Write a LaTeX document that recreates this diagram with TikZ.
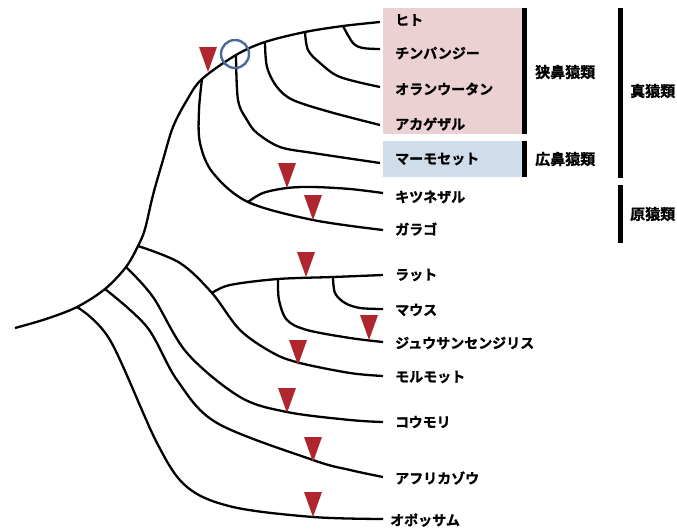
\documentclass[tikz,border=0pt]{standalone}
\usepackage{fontspec}
\setmainfont{Noto Sans CJK JP}[BoldFont={* Bold},BoldFeatures={FakeBold=1.3}]
\definecolor{pinkc}{HTML}{EBD1D1}
\definecolor{bluec}{HTML}{CFDDEA}
\definecolor{markred}{HTML}{B0262F}
\definecolor{circblue}{HTML}{4A6C99}
\begin{document}
\begin{tikzpicture}[x=1pt,y=-1pt,
  branch/.style={line width=2.3pt, black},
  lab/.style={anchor=west, inner sep=0pt, font=\bfseries\fontsize{14}{14}\selectfont},
  grp/.style={anchor=west, inner sep=0pt, font=\bfseries\fontsize{15}{15}\selectfont},
  bar/.style={fill=black},
  groupbox/.style={anchor=north west, inner sep=0pt, minimum width=139pt},
  redmark/.pic={\fill[markred] (0,0) -- (-9,-25) -- (9,-25) -- cycle;}
]
\useasboundingbox (0,0) rectangle (677,530);

% coloured boxes
\node[groupbox, fill=pinkc, minimum height=126pt] (boxcat) at (383,8) {};
\node[groupbox, fill=bluec, minimum height=36pt] (boxpla) at (383,141) {};

% bars
\fill[bar] (522,8) rectangle (527,134);
\fill[bar] (522,141) rectangle (527,177);
\fill[bar] (618,8) rectangle (622.5,178);
\fill[bar] (618,185) rectangle (622.5,243);

% group labels
\node[grp] (gcat) at (535,72) {狭鼻猿類};
\node[grp] (gpla) at (535,159) {広鼻猿類};
\node[grp] (gsim) at (630,91) {真猿類};
\node[grp] (gpro) at (630,214) {原猿類};

% leaf labels
\node[lab] (Lhito) at (395,20) {ヒト};
\node[lab] (Lchimp) at (395,53) {チンパンジー};
\node[lab] (Lora) at (395,89) {オランウータン};
\node[lab] (Lrhe) at (395,124) {アカゲザル};
\node[lab] (Lmar) at (395,159) {マーモセット};
\node[lab] (Llem) at (395,197) {キツネザル};
\node[lab] (Lgal) at (395,229) {ガラゴ};
\node[lab] (Lrat) at (395,275) {ラット};
\node[lab] (Lmou) at (395,310) {マウス};
\node[lab] (Lsq) at (395,343) {ジュウサンセンジリス};
\node[lab] (Lgp) at (395,377) {モルモット};
\node[lab] (Lbat) at (395,422) {コウモリ};
\node[lab] (Lele) at (395,478) {アフリカゾウ};
\node[lab] (Lopo) at (390,520) {オポッサム};

% junctions
\coordinate (root) at (15,328);
\coordinate (Jopo) at (77,307);
\coordinate (Jele) at (105,289);
\coordinate (Jbat) at (126,267);
\coordinate (Jrod) at (138,246);
\coordinate (Jpri) at (202,79);
\coordinate (Jmar) at (236,55);
\coordinate (Jrhe) at (265,42);
\coordinate (Jora) at (305,32);
\coordinate (Jchi) at (343,26);
\coordinate (Jpro) at (248,202);
\coordinate (Jmur) at (212,293);
\coordinate (Jsq) at (278,279);
\coordinate (Jmou) at (333,277);

% leaf ends
\coordinate (Ehito) at (380,22);
\coordinate (Echi) at (380,49);
\coordinate (Eora) at (380,87);
\coordinate (Erhe) at (380,125);
\coordinate (Emar) at (380,163);
\coordinate (Elem) at (383,193);
\coordinate (Egal) at (383,230);
\coordinate (Erat) at (383,275);
\coordinate (Emou) at (383,309);
\coordinate (Esq) at (383,342);
\coordinate (Egp) at (383,376);
\coordinate (Ebat) at (383,422);
\coordinate (Eele) at (383,477);
\coordinate (Eopo) at (383,519);

% spine
\draw[branch] plot[smooth, tension=0.55] coordinates {(root) (46,319) (Jopo) (Jele) (Jbat) (Jrod) (145,229) (153,195) (163,160) (173,127) (187,100) (Jpri) (Jmar) (Jrhe) (Jora) (Jchi) (Ehito)};

% primates
\draw[branch] plot[smooth, tension=0.55] coordinates {(Jchi) (353,43) (363,48) (Echi)};
\draw[branch] plot[smooth, tension=0.55] coordinates {(Jora) (308,50) (320,63) (340,77) (Eora)};
\draw[branch] plot[smooth, tension=0.55] coordinates {(Jrhe) (267,67) (277,87) (293,100) (330,112) (Erhe)};
\draw[branch] plot[smooth, tension=0.55] coordinates {(Jmar) (238,100) (247,120) (257,133) (280,147) (313,153) (Emar)};
\draw[branch] plot[smooth, tension=0.55] coordinates {(Jpri) (199,110) (200,143) (213,173) (Jpro) (313,220) (Egal)};
\draw[branch] plot[smooth, tension=0.55] coordinates {(Jpro) (263,193) (287,188) (313,187) (350,189) (Elem)};

% other mammals
\draw[branch] plot[smooth, tension=0.55] coordinates {(Jopo) (110,340) (157,443) (187,487) (233,507) (313,517) (Eopo)};
\draw[branch] plot[smooth, tension=0.55] coordinates {(Jele) (147,327) (177,380) (217,423) (313,460) (350,470) (Eele)};
\draw[branch] plot[smooth, tension=0.55] coordinates {(Jbat) (153,297) (187,353) (240,397) (287,412) (350,420) (Ebat)};
\draw[branch] plot[smooth, tension=0.55] coordinates {(Jrod) (180,263) (Jmur) (240,330) (273,353) (300,363) (350,373) (Egp)};
\draw[branch] plot[smooth, tension=0.55] coordinates {(Jmur) (230,285) (Jsq) (Jmou) (Erat)};
\draw[branch] plot[smooth, tension=0.55] coordinates {(Jsq) (279,300) (287,320) (307,330) (350,338) (Esq)};
\draw[branch] plot[smooth, tension=0.55] coordinates {(Jmou) (335,293) (345,303) (360,308) (Emou)};

% markers
\pic at (208,72) {redmark};
\pic at (287,188) {redmark};
\pic at (313,220) {redmark};
\pic at (306,277) {redmark};
\pic at (369,340) {redmark};
\pic at (298,365) {redmark};
\pic at (287,413) {redmark};
\pic at (313,462) {redmark};
\pic at (313,517) {redmark};

% highlight ring
\node[draw=circblue, line width=2.4pt, circle, minimum size=28pt, inner sep=0pt] (ring) at (235,54) {};
\end{tikzpicture}
\end{document}
